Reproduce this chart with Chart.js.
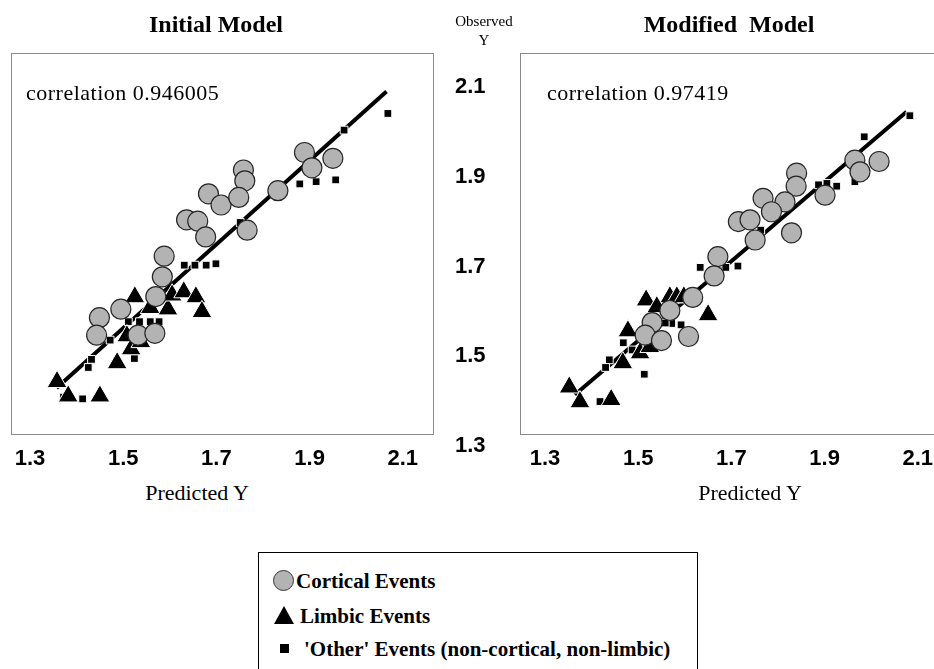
<!DOCTYPE html>
<html>
<head>
<meta charset="utf-8">
<title>Initial vs Modified Model</title>
<script src="https://cdn.jsdelivr.net/npm/chart.js@4.4.1/dist/chart.umd.min.js"></script>
<style>
  html, body { margin: 0; padding: 0; background: #fff; }
  body { width: 934px; height: 669px; overflow: hidden; position: relative; }
  canvas { position: absolute; top: 0; }
  .txt { position: absolute; white-space: pre; color: #000; font-family: "Liberation Serif", "Times New Roman", serif; transform: translate(-50%, -50%); }
  .title { font-size: 24px; font-weight: bold; }
  .obs { font-size: 15px; }
  .pred { font-size: 22px; }
  .corr { position: absolute; white-space: pre; font-family: "Liberation Serif", "Times New Roman", serif; font-size: 22px; letter-spacing: 0.5px; transform: translateY(-50%); }
  #legend { position: absolute; left: 258px; top: 552px; width: 438px; height: 140px; border: 1px solid #000; }
  .row { position: absolute; left: 0; font-family: "Liberation Serif", "Times New Roman", serif; font-size: 21px; font-weight: bold; white-space: pre; }
  .mk { position: absolute; }
</style>
</head>
<body>
<canvas id="initialChart" width="515" height="480" style="left:0"></canvas>
<canvas id="modifiedChart" width="440" height="480" style="left:509px"></canvas>

<div class="txt title" style="left:216px;top:24px">Initial Model</div>
<div class="txt title" style="left:729px;top:24px">Modified  Model</div>
<div class="txt obs" style="left:484px;top:21px">Observed</div>
<div class="txt obs" style="left:484px;top:40px">Y</div>
<div class="corr" style="left:26px;top:93px">correlation 0.946005</div>
<div class="corr" style="left:547px;top:93px">correlation 0.97419</div>
<div class="txt pred" style="left:197px;top:493px">Predicted Y</div>
<div class="txt pred" style="left:750px;top:493px">Predicted Y</div>
<div id="legend"></div>

<script>
var xTicks = [1.3, 1.5, 1.7, 1.9, 2.1];
var yTicks = [1.3, 1.5, 1.7, 1.9, 2.1];
var seriesNames = ['Cortical Events', 'Limbic Events', "'Other' Events (non-cortical, non-limbic)"];

// Initial model (predicted x, observed y)
var initialCorticalX = [1.889, 1.950, 1.905, 1.758, 1.761, 1.683, 1.710, 1.748, 1.832, 1.636, 1.660, 1.677, 1.766, 1.588, 1.584, 1.570, 1.495, 1.449, 1.443, 1.532, 1.568];
var initialCorticalY = [1.954, 1.941, 1.920, 1.915, 1.891, 1.862, 1.837, 1.854, 1.869, 1.804, 1.801, 1.766, 1.781, 1.723, 1.677, 1.633, 1.605, 1.586, 1.547, 1.547, 1.551];
var initialLimbicX = [1.525, 1.558, 1.596, 1.605, 1.630, 1.656, 1.669, 1.508, 1.517, 1.538, 1.487, 1.358, 1.382, 1.450];
var initialLimbicY = [1.632, 1.608, 1.605, 1.636, 1.643, 1.632, 1.599, 1.545, 1.516, 1.532, 1.485, 1.443, 1.411, 1.411];
var initialOtherX = [2.068, 1.974, 1.879, 1.914, 1.956, 1.631, 1.654, 1.678, 1.699, 1.751, 1.511, 1.535, 1.558, 1.577, 1.432, 1.425, 1.524, 1.413, 1.372, 1.472];
var initialOtherY = [2.041, 2.004, 1.884, 1.889, 1.893, 1.703, 1.703, 1.703, 1.706, 1.798, 1.577, 1.577, 1.577, 1.577, 1.493, 1.475, 1.495, 1.405, 1.409, 1.536];
var initialFitX = [1.357, 2.065];
var initialFitY = [1.429, 2.090];

// Modified model
var modifiedCorticalX = [1.965, 2.017, 1.976, 1.840, 1.839, 1.768, 1.815, 1.786, 1.901, 1.715, 1.740, 1.829, 1.751, 1.671, 1.663, 1.617, 1.568, 1.530, 1.515, 1.550, 1.608];
var modifiedCorticalY = [1.937, 1.934, 1.911, 1.908, 1.879, 1.852, 1.844, 1.822, 1.859, 1.800, 1.804, 1.775, 1.759, 1.722, 1.679, 1.631, 1.602, 1.575, 1.547, 1.535, 1.544];
var modifiedLimbicX = [1.517, 1.568, 1.583, 1.598, 1.540, 1.650, 1.478, 1.504, 1.525, 1.467, 1.352, 1.375, 1.442];
var modifiedLimbicY = [1.625, 1.632, 1.632, 1.632, 1.610, 1.592, 1.556, 1.507, 1.521, 1.485, 1.431, 1.398, 1.403];
var modifiedOtherX = [2.083, 1.985, 1.887, 1.905, 1.926, 1.965, 1.633, 1.688, 1.714, 1.763, 1.592, 1.572, 1.558, 1.468, 1.487, 1.438, 1.430, 1.513, 1.418];
var modifiedOtherY = [2.036, 1.989, 1.882, 1.885, 1.879, 1.889, 1.698, 1.698, 1.701, 1.781, 1.570, 1.573, 1.574, 1.530, 1.514, 1.492, 1.475, 1.460, 1.399];
var modifiedFitX = [1.364, 2.076];
var modifiedFitY = [1.414, 2.045];

// scale ranges (the frame of each panel does not sit on the tick values)
var yMin = 1.29554, yMax = 2.17577, frameBottom = 1.3267;

function toPoints(xs, ys) {
    return xs.map(function (x, i) { return { x: x, y: ys[i] }; });
}

var framePlugin = {
    id: 'frame',
    beforeDatasetsDraw: function (chart) {
        var a = chart.chartArea;
        var bottom = chart.scales.y.getPixelForValue(frameBottom);
        var ctx = chart.ctx;
        ctx.save();
        ctx.strokeStyle = '#8a8a8a';
        ctx.lineWidth = 1;
        ctx.strokeRect(Math.round(a.left) + 0.5, Math.round(a.top) + 0.5,
            Math.round(a.right - a.left), Math.round(bottom - a.top));
        ctx.restore();
    }
};

var tickFont = { family: '"Liberation Sans", Arial, sans-serif', size: 22, weight: 'bold', lineHeight: 1 };

function makeChart(id, xMin, xMax, cx, cy, lx, ly, ox, oy, fx, fy, showY, padRight) {
    return new Chart(document.getElementById(id), {
        type: 'scatter',
        data: {
            datasets: [
                { label: seriesNames[0], data: toPoints(cx, cy), pointStyle: 'circle', pointRadius: 10,
                  backgroundColor: '#b3b3b3', borderColor: '#262626', borderWidth: 1.2 },
                { label: seriesNames[1], data: toPoints(lx, ly), pointStyle: 'triangle', pointRadius: 11.5,
                  backgroundColor: '#000', borderColor: '#fff', borderWidth: 1 },
                { label: seriesNames[2], data: toPoints(ox, oy), pointStyle: 'rect', pointRadius: 5.5,
                  backgroundColor: '#000', borderColor: '#fff', borderWidth: 1 },
                { label: 'fit', data: toPoints(fx, fy), showLine: true, pointRadius: 0,
                  borderColor: '#000', borderWidth: 4 }
            ]
        },
        options: {
            responsive: false,
            animation: false,
            events: [],
            layout: { autoPadding: false, padding: { left: 11, top: 53, right: padRight, bottom: 0 } },
            plugins: { legend: { display: false }, tooltip: { enabled: false } },
            scales: {
                x: {
                    type: 'linear', min: xMin, max: xMax,
                    grid: { display: false, drawTicks: false },
                    border: { display: false },
                    afterBuildTicks: function (s) { s.ticks = xTicks.map(function (v) { return { value: v }; }); },
                    afterFit: function (s) { s.height = 32; s.paddingLeft = 0; s.paddingRight = 0; },
                    ticks: { padding: 0, autoSkip: false, maxRotation: 0, color: '#000', font: tickFont,
                             callback: function (v) { return Number(v).toFixed(1); } }
                },
                y: {
                    type: 'linear', position: 'right', display: showY, min: yMin, max: yMax,
                    grid: { display: false, drawTicks: false },
                    border: { display: false },
                    afterBuildTicks: function (s) { s.ticks = yTicks.map(function (v) { return { value: v }; }); },
                    afterFit: function (s) { s.width = showY ? 82 : 0; s.paddingTop = 0; s.paddingBottom = 0; },
                    ticks: { padding: 22, crossAlign: 'center', color: '#000', font: tickFont,
                             callback: function (v) { return Number(v).toFixed(1); } }
                }
            }
        },
        plugins: [framePlugin]
    });
}

makeChart('initialChart', 1.25923, 2.16481,
    initialCorticalX, initialCorticalY, initialLimbicX, initialLimbicY,
    initialOtherX, initialOtherY, initialFitX, initialFitY, true, 0);

makeChart('modifiedChart', 1.24635, 2.15193,
    modifiedCorticalX, modifiedCorticalY, modifiedLimbicX, modifiedLimbicY,
    modifiedOtherX, modifiedOtherY, modifiedFitX, modifiedFitY, false, 7);

// legend
var legend = document.getElementById('legend');
var rowTops = [28, 63, 96];
var textLeft = [37, 41, 45];
var markers = [
    'left:14px;width:19px;height:19px;border-radius:50%;background:#b3b3b3;border:1px solid #333;margin-top:-11px;',
    'left:15px;width:0;height:0;border-left:10px solid transparent;border-right:10px solid transparent;border-bottom:18px solid #000;margin-top:-10px;',
    'left:21px;width:9px;height:9px;background:#000;margin-top:-5px;'
];
seriesNames.forEach(function (name, i) {
    var m = document.createElement('div');
    m.className = 'mk';
    m.style.cssText = markers[i] + 'top:' + rowTops[i] + 'px;';
    legend.appendChild(m);
    var t = document.createElement('div');
    t.className = 'row';
    t.textContent = name;
    t.style.left = textLeft[i] + 'px';
    t.style.top = rowTops[i] + 'px';
    t.style.transform = 'translateY(-50%)';
    legend.appendChild(t);
});
</script>
</body>
</html>
